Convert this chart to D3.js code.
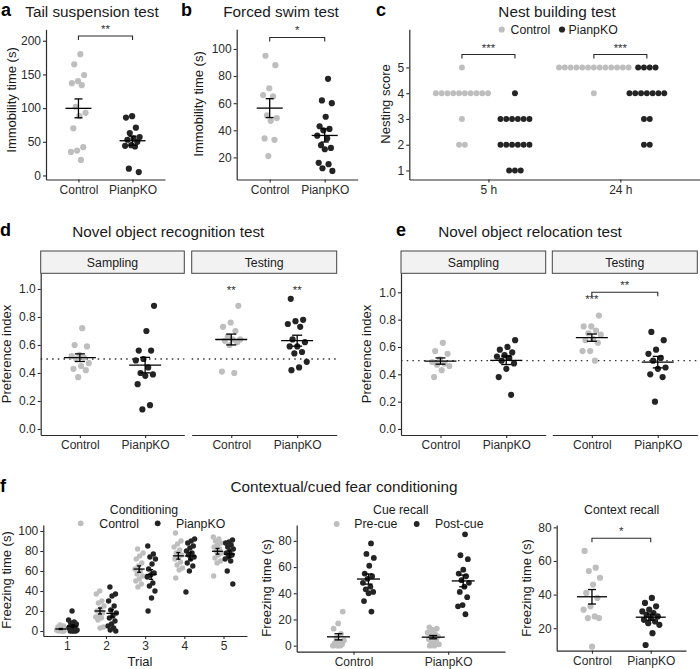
<!DOCTYPE html>
<html><head><meta charset="utf-8">
<script src="https://cdn.jsdelivr.net/npm/d3@7"></script>
<style>
body{margin:0;background:#fff}
text{font-family:"Liberation Sans",Arial,Helvetica,sans-serif}
</style></head><body>
<svg id="chart" width="700" height="669" style="background:#fff"></svg>
<script>
// ---------------- DATA ----------------
const groups = ["Control", "PianpKO"];
const times = ["5 h", "24 h"];
const phases = ["Sampling", "Testing"];
const trials = [1, 2, 3, 4, 5];
const cueLabels = ["Pre-cue", "Post-cue"];

// a: tail suspension (immobility time, s)
const tailCtrl = [180, 165, 149, 140, 137, 134, 102, 93, 88, 70, 42, 37, 35, 23];
const tailKO = [88, 86, 71, 63, 57, 55, 53, 50, 45, 44, 43, 10, 5];
const tailTicks = [0, 50, 100, 150, 200];

// b: forced swim (immobility time, s)
const swimCtrl = [95, 88, 71, 66, 65, 51, 49, 47, 34, 33, 21];
const swimKO = [78, 62, 60, 50, 43, 41, 40, 36, 34, 29, 27, 26, 16, 15, 12, 10];
const swimTicks = [20, 40, 60, 80, 100];

// c: nest building score
const nest5hCtrl = [5, 4, 4, 4, 4, 4, 4, 4, 4, 4, 4, 3, 2, 2];
const nest5hKO = [4, 3, 3, 3, 3, 3, 3, 2, 2, 2, 2, 2, 2, 1, 1, 1];
const nest24hCtrl = [5, 5, 5, 5, 5, 5, 5, 5, 5, 5, 5, 5, 5, 4];
const nest24hKO = [5, 5, 5, 5, 4, 4, 4, 4, 4, 4, 4, 3, 3, 2, 2];
const nestTicks = [1, 2, 3, 4, 5];

// d: novel object recognition (preference index)
const recSampCtrl = [0.72, 0.60, 0.59, 0.53, 0.52, 0.51, 0.50, 0.47, 0.45, 0.43, 0.42, 0.37];
const recSampKO = [0.88, 0.70, 0.56, 0.56, 0.50, 0.49, 0.44, 0.40, 0.39, 0.38, 0.32, 0.17, 0.14];
const recTestCtrl = [0.88, 0.76, 0.73, 0.70, 0.66, 0.64, 0.64, 0.63, 0.62, 0.60, 0.41, 0.40];
const recTestKO = [0.93, 0.78, 0.77, 0.75, 0.73, 0.64, 0.62, 0.59, 0.59, 0.55, 0.54, 0.48, 0.44, 0.42];

// e: novel object relocation (preference index)
const relSampCtrl = [0.63, 0.57, 0.55, 0.51, 0.49, 0.48, 0.47, 0.46, 0.43, 0.38];
const relSampKO = [0.65, 0.60, 0.58, 0.56, 0.54, 0.53, 0.52, 0.50, 0.48, 0.44, 0.38, 0.25];
const relTestCtrl = [0.83, 0.75, 0.75, 0.72, 0.70, 0.69, 0.66, 0.65, 0.63, 0.57, 0.57, 0.50];
const relTestKO = [0.71, 0.65, 0.58, 0.55, 0.52, 0.50, 0.45, 0.44, 0.40, 0.38, 0.20];
const prefTicks = [0, 0.2, 0.4, 0.6, 0.8, 1.0];

// f1: conditioning (freezing time per trial, s)
const condCtrl = [
  [0, 0, 0, 1, 1, 2, 2, 3, 3, 4, 5, 6, 1, 0],
  [40, 37, 30, 28, 25, 22, 20, 18, 15, 14, 13, 11, 4, 3],
  [82, 78, 75, 72, 68, 65, 62, 60, 57, 55, 52, 50, 47, 44],
  [98, 90, 87, 84, 81, 78, 76, 74, 72, 69, 66, 63, 61, 53],
  [94, 92, 90, 88, 86, 84, 82, 80, 78, 76, 73, 70, 68, 55]
];
const condKO = [
  [20, 11, 9, 8, 7, 5, 4, 3, 2, 1, 0, 0, 0, 0, 3],
  [44, 37, 35, 30, 25, 21, 18, 15, 13, 10, 7, 5, 3, 1, 0],
  [85, 77, 74, 72, 67, 62, 58, 56, 54, 48, 45, 40, 33, 20],
  [92, 90, 88, 85, 83, 80, 78, 76, 74, 72, 68, 65, 60, 39],
  [91, 89, 88, 86, 84, 82, 80, 78, 76, 74, 72, 70, 60, 47]
];
const condTicks = [0, 20, 40, 60, 80, 100];

// f2: cue recall (freezing time, s)
const cueCtrlPre = [26, 17, 13, 9, 6, 4, 3, 2, 1, 0, 0, 0];
const cueCtrlPost = [78, 70, 67, 61, 55, 53, 51, 48, 45, 43, 41, 40, 34, 26];
const cueKOPre = [14, 13, 12, 10, 9, 8, 7, 6, 5, 4, 2, 1, 0, 0];
const cueKOPost = [85, 69, 66, 58, 55, 53, 50, 48, 45, 41, 37, 31, 30, 24];
const cueTicks = [0, 20, 40, 60, 80];

// f3: context recall (freezing time, s)
const ctxCtrl = [66, 56, 54, 50, 46, 41, 38, 33, 31, 27, 26, 26, 9];
const ctxKO = [38, 35, 33, 31, 30, 29, 28, 27, 26, 25, 24, 23, 22, 17, 10];
const ctxTicks = [20, 40, 60, 80];

// ---------------- HELPERS ----------------
const svg = d3.select("#chart");
const FF = '"Liberation Sans", Arial, Helvetica, sans-serif';
const CTRL = "#bebebe", KO = "#242424", AX = "#2a2a2a";
const TITLE = 15.3, TICK = 12, ATITLE = 13, LEG = 12.3;

function jit(i) { const f = ((i + 1) * 0.6180339887) % 1; return f * 2 - 1; }

function styleAxis(g) {
  g.attr("font-family", FF).attr("font-size", TICK);
  g.select(".domain").attr("stroke", AX).attr("stroke-width", 1.2);
  g.selectAll(".tick line").attr("stroke", AX).attr("stroke-width", 1.1);
  g.selectAll(".tick text").attr("fill", "#2a2a2a");
}
function yAxis(scale, x, ticks, fmt) {
  const g = svg.append("g").attr("transform", `translate(${x},0)`)
    .call(d3.axisLeft(scale).tickValues(ticks).tickSize(3).tickSizeOuter(0).tickPadding(2).tickFormat(fmt || d3.format("")));
  styleAxis(g); return g;
}
function xAxis(scale, y) {
  const g = svg.append("g").attr("transform", `translate(0,${y})`)
    .call(d3.axisBottom(scale).tickSize(3).tickSizeOuter(0).tickPadding(2.5));
  styleAxis(g); return g;
}
function txt(x, y, s, opts = {}) {
  return svg.append("text").attr("x", x).attr("y", y).text(s)
    .attr("font-family", FF).attr("font-size", opts.size || LEG)
    .attr("font-weight", opts.weight || "normal")
    .attr("fill", opts.fill || "#1a1a1a")
    .attr("text-anchor", opts.anchor || "middle");
}
function yTitle(x, y, s) {
  svg.append("text").attr("transform", `translate(${x},${y}) rotate(-90)`)
    .attr("text-anchor", "middle").attr("dy", "0.35em")
    .attr("font-family", FF).attr("font-size", ATITLE).attr("fill", "#1a1a1a").text(s);
}
function points(values, cx, y, color, r, jw, seed) {
  svg.append("g").selectAll("circle").data(values).join("circle")
    .attr("cx", (d, i) => cx + jit(i + seed) * jw)
    .attr("cy", d => y(d)).attr("r", r).attr("fill", color);
}
function meanSem(values, cx, y, hw, cw) {
  const m = d3.mean(values), s = d3.deviation(values) / Math.sqrt(values.length);
  const g = svg.append("g").attr("stroke", "#000").attr("stroke-width", 1.3).attr("fill", "none");
  g.append("line").attr("x1", cx - hw).attr("x2", cx + hw).attr("y1", y(m)).attr("y2", y(m));
  g.append("line").attr("x1", cx).attr("x2", cx).attr("y1", y(m - s)).attr("y2", y(m + s));
  g.append("line").attr("x1", cx - cw).attr("x2", cx + cw).attr("y1", y(m - s)).attr("y2", y(m - s));
  g.append("line").attr("x1", cx - cw).attr("x2", cx + cw).attr("y1", y(m + s)).attr("y2", y(m + s));
}
function bracket(x1, x2, y, label) {
  svg.append("path").attr("d", `M${x1},${y + 4}V${y}H${x2}V${y + 4}`)
    .attr("fill", "none").attr("stroke", AX).attr("stroke-width", 1.1);
  txt((x1 + x2) / 2, y - 3, label, { size: 11.5, fill: "#333" });
}
function stacks(values, cx, y, color) {
  const pts = [];
  d3.rollups(values, v => v.length, d => d).forEach(([score, n]) => {
    for (let j = 0; j < n; j++) pts.push({ score, k: j - (n - 1) / 2 });
  });
  svg.append("g").selectAll("circle").data(pts).join("circle")
    .attr("cx", d => cx + d.k * 5.8).attr("cy", d => y(d.score))
    .attr("r", 2.95).attr("fill", color);
}

// ---------------- PANEL a ----------------
{
  const x = d3.scalePoint().domain(groups).range([46, 165]).padding(0.6);
  const y = d3.scaleLinear().domain([-6, 217]).range([179.5, 29.3]);
  txt(1, 16, "a", { size: 18, weight: "bold", anchor: "start", fill: "#000" });
  txt(92, 17, "Tail suspension test", { size: TITLE });
  yTitle(11.7, 100, "Immobility time (s)");
  points(tailCtrl, x("Control"), y, CTRL, 3.1, 8, 0);
  points(tailKO, x("PianpKO"), y, KO, 3.1, 8, 3);
  meanSem(tailCtrl, x("Control"), y, 13, 4);
  meanSem(tailKO, x("PianpKO"), y, 13, 4);
  bracket(x("Control"), x("PianpKO"), y(207), "**");
  yAxis(y, 46, tailTicks);
  xAxis(x, 179.5);
}
// ---------------- PANEL b ----------------
{
  const x = d3.scalePoint().domain(groups).range([236.7, 357.7]).padding(0.6);
  const y = d3.scaleLinear().domain([3.7, 114.5]).range([179.5, 29.3]);
  txt(181, 16, "b", { size: 18, weight: "bold", anchor: "start", fill: "#000" });
  txt(281, 17, "Forced swim test", { size: TITLE });
  yTitle(198.3, 104, "Immobility time (s)");
  points(swimCtrl, x("Control"), y, CTRL, 3.1, 8, 1);
  points(swimKO, x("PianpKO"), y, KO, 3.1, 8, 5);
  meanSem(swimCtrl, x("Control"), y, 13, 4);
  meanSem(swimKO, x("PianpKO"), y, 13, 4);
  bracket(x("Control"), x("PianpKO"), y(108.5), "*");
  yAxis(y, 236.7, swimTicks);
  xAxis(x, 179.5);
}
// ---------------- PANEL c ----------------
{
  const x = d3.scalePoint().domain(times).range([409.3, 699.5]).padding(0.6);
  const y = d3.scaleLinear().domain([0.65, 6.48]).range([179.5, 29.3]);
  const dodge = 26.5;
  txt(376, 16, "c", { size: 18, weight: "bold", anchor: "start", fill: "#000" });
  txt(557, 17, "Nest building test", { size: TITLE });
  svg.append("circle").attr("cx", 501.7).attr("cy", 29.5).attr("r", 3.1).attr("fill", CTRL);
  txt(510.5, 33.8, groups[0], { anchor: "start" });
  svg.append("circle").attr("cx", 562).attr("cy", 29.5).attr("r", 3.1).attr("fill", KO);
  txt(568.5, 33.8, groups[1], { anchor: "start" });
  yTitle(385, 104, "Nesting score");
  stacks(nest5hCtrl, x("5 h") - dodge, y, CTRL);
  stacks(nest5hKO, x("5 h") + dodge, y, KO);
  stacks(nest24hCtrl, x("24 h") - dodge, y, CTRL);
  stacks(nest24hKO, x("24 h") + dodge, y, KO);
  bracket(x("5 h") - dodge, x("5 h") + dodge, y(5.5), "***");
  bracket(x("24 h") - dodge, x("24 h") + dodge, y(5.5), "***");
  yAxis(y, 409.3, nestTicks);
  xAxis(x, 179.5);
}
// ---------------- PANELS d & e ----------------
function prefPanel(cfg) {
  const y = d3.scaleLinear().domain(cfg.dom).range([435, 273.3]);
  txt(cfg.letterX, 236, cfg.letter, { size: 18, weight: "bold", anchor: "start", fill: "#000" });
  txt(cfg.titleX, 237, cfg.title, { size: TITLE });
  yTitle(cfg.ytX, 354, "Preference index");
  cfg.facets.forEach((f, fi) => {
    const x = d3.scalePoint().domain(groups).range(f.range).padding(0.6);
    svg.append("rect").attr("x", f.range[0]).attr("y", 251).attr("width", f.range[1] - f.range[0]).attr("height", 22.3)
      .attr("fill", "#f2f2f2").attr("stroke", "#444").attr("stroke-width", 1);
    txt((f.range[0] + f.range[1]) / 2, 266.5, phases[fi], { size: LEG });
    svg.append("line").attr("x1", f.range[0]).attr("x2", f.range[1]).attr("y1", y(0.5)).attr("y2", y(0.5))
      .attr("stroke", "#333").attr("stroke-width", 1.4).attr("stroke-dasharray", "1.5,4.2");
    points(f.ctrl, x("Control"), y, CTRL, 3.1, 10, fi * 2);
    points(f.ko, x("PianpKO"), y, KO, 3.1, 10, fi * 2 + 7);
    meanSem(f.ctrl, x("Control"), y, 16, 5);
    meanSem(f.ko, x("PianpKO"), y, 16, 5);
    xAxis(x, 435);
    if (f.marks) f.marks(x, y);
  });
  yAxis(y, cfg.facets[0].range[0], prefTicks, d3.format(".1f"));
}
prefPanel({
  letter: "d", letterX: 0, title: "Novel object recognition test", titleX: 168.3, ytX: 6.7,
  dom: [-0.043, 1.112],
  facets: [
    { range: [40.7, 184.3], ctrl: recSampCtrl, ko: recSampKO },
    { range: [191.7, 336.7], ctrl: recTestCtrl, ko: recTestKO,
      marks: (x, y) => {
        txt(x("Control"), y(1.0) + 5, "**", { size: 11.5, fill: "#333" });
        txt(x("PianpKO"), y(1.0) + 5, "**", { size: 11.5, fill: "#333" });
      } }
  ]
});
prefPanel({
  letter: "e", letterX: 396, title: "Novel object relocation test", titleX: 530, ytX: 366.7,
  dom: [-0.044, 1.139],
  facets: [
    { range: [401, 545.7], ctrl: relSampCtrl, ko: relSampKO },
    { range: [552.3, 697.3], ctrl: relTestCtrl, ko: relTestKO,
      marks: (x, y) => {
        txt(x("Control"), y(0.95) + 4, "***", { size: 11.5, fill: "#333" });
        bracket(x("Control"), x("PianpKO"), y(1.0), "**");
      } }
  ]
});
// ---------------- PANEL f ----------------
txt(0, 492, "f", { size: 18, weight: "bold", anchor: "start", fill: "#000" });
txt(344, 492, "Contextual/cued fear conditioning", { size: TITLE });
// f1 conditioning
{
  const x = d3.scalePoint().domain(trials).range([43.3, 247]).padding(0.6);
  const y = d3.scaleLinear().domain([-5, 106]).range([636, 525]);
  const dg = 6;
  txt(144, 513.5, "Conditioning", { size: LEG });
  svg.append("circle").attr("cx", 80.7).attr("cy", 523.3).attr("r", 2.9).attr("fill", CTRL);
  txt(99.3, 527.8, groups[0], { anchor: "start" });
  svg.append("circle").attr("cx", 157.7).attr("cy", 523.3).attr("r", 2.9).attr("fill", KO);
  txt(176, 527.8, groups[1], { anchor: "start" });
  yTitle(6, 580, "Freezing time (s)");
  trials.forEach((t, i) => {
    points(condCtrl[i], x(t) - dg, y, CTRL, 2.7, 4.5, i * 3);
    points(condKO[i], x(t) + dg, y, KO, 2.7, 4.5, i * 3 + 11);
  });
  trials.forEach((t, i) => {
    meanSem(condCtrl[i], x(t) - dg, y, 5.5, 2);
    meanSem(condKO[i], x(t) + dg, y, 5.5, 2);
  });
  yAxis(y, 43.3, condTicks);
  xAxis(x, 636);
  txt(140, 666, "Trial", { size: ATITLE });
}
// f2 cue recall
{
  const x = d3.scalePoint().domain(groups).range([296.7, 505]).padding(0.6);
  const y = d3.scaleLinear().domain([-4.6, 92.1]).range([651.7, 525]);
  const dg = 15;
  txt(400.7, 513.5, "Cue recall", { size: LEG });
  svg.append("circle").attr("cx", 336.7).attr("cy", 524).attr("r", 2.9).attr("fill", CTRL);
  txt(354.3, 528.4, cueLabels[0], { anchor: "start" });
  svg.append("circle").attr("cx", 416.7).attr("cy", 524).attr("r", 2.9).attr("fill", KO);
  txt(435, 528.4, cueLabels[1], { anchor: "start" });
  yTitle(266.7, 588, "Freezing time (s)");
  points(cueCtrlPre, x("Control") - dg, y, CTRL, 2.9, 6, 2);
  points(cueCtrlPost, x("Control") + dg, y, KO, 2.9, 6, 5);
  points(cueKOPre, x("PianpKO") - dg, y, CTRL, 2.9, 6, 9);
  points(cueKOPost, x("PianpKO") + dg, y, KO, 2.9, 6, 13);
  meanSem(cueCtrlPre, x("Control") - dg, y, 11.5, 4);
  meanSem(cueCtrlPost, x("Control") + dg, y, 11.5, 4);
  meanSem(cueKOPre, x("PianpKO") - dg, y, 11.5, 4);
  meanSem(cueKOPost, x("PianpKO") + dg, y, 11.5, 4);
  yAxis(y, 296.7, cueTicks);
  xAxis(x, 651.7);
}
// f3 context recall
{
  const x = d3.scalePoint().domain(groups).range([556.7, 686]).padding(0.6);
  const y = d3.scaleLinear().domain([6.6, 81.4]).range([650.7, 525]);
  txt(621.7, 513.5, "Context recall", { size: LEG });
  yTitle(526.7, 588, "Freezing time (s)");
  points(ctxCtrl, x("Control"), y, CTRL, 3.1, 9, 4);
  points(ctxKO, x("PianpKO"), y, KO, 3.1, 9, 8);
  meanSem(ctxCtrl, x("Control"), y, 15, 4);
  meanSem(ctxKO, x("PianpKO"), y, 15, 4);
  bracket(x("Control"), x("PianpKO"), y(73.5), "*");
  yAxis(y, 556.7, ctxTicks);
  xAxis(x, 650.7);
}
</script>
</body></html>
